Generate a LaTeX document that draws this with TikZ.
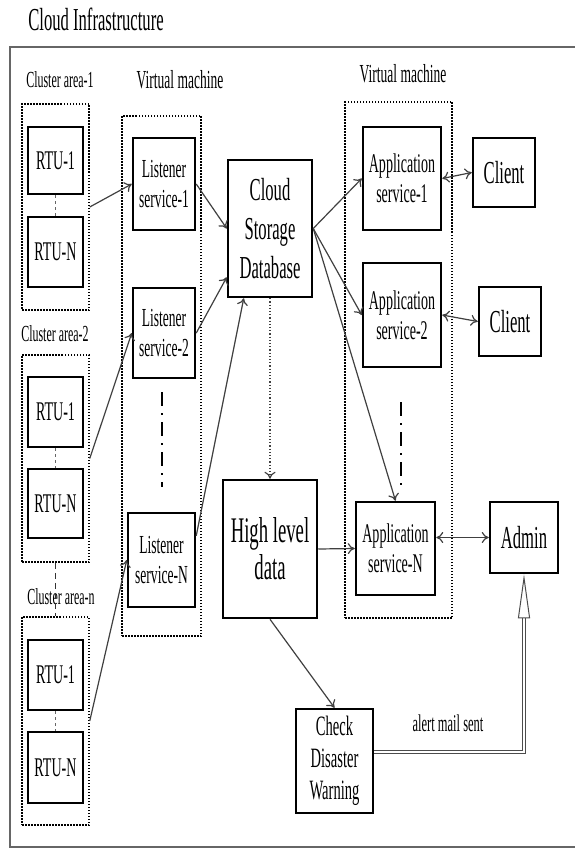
\documentclass[tikz,border=0pt]{standalone}
\usepackage{fontspec}
\setmainfont{Liberation Serif}[FakeStretch=0.52]
\usetikzlibrary{arrows.meta}

\begin{document}
\begin{tikzpicture}[x=1pt,y=-1pt,
    box/.style={draw=black, line width=2.5pt, align=center, inner sep=0pt},
    area/.style={draw=black, line width=1.5pt, dash pattern=on 1.5pt off 1.5pt, inner sep=0pt},
    flow/.style={draw=black!75, line width=1.2pt, -{To[length=7pt,width=11pt]}},
    both/.style={flow, {To[length=7pt,width=11pt]}-{To[length=7pt,width=11pt]}},
    gap/.style={line width=1.5pt, dash pattern=on 14pt off 7pt on 2pt off 7pt},
    rtu/.style={box, minimum width=55, font=\fontsize{27}{30}\selectfont},
    lbl/.style={font=\fontsize{23}{26}\selectfont}]
    \useasboundingbox (0,0) rectangle (575,856);
    % frame and headings
    \draw[black!60, line width=1.5pt] (575,47) -- (10,47) -- (10,847) -- (575,847);
    \node (title) at (96,19) {\fontsize{32}{36}\selectfont Cloud Infrastructure};
    \node[lbl] (lab1) at (60,80) {Cluster area-1};
    \node[lbl] (lab2) at (55,334) {Cluster area-2};
    \node[lbl] (labn) at (61,597) {Cluster area-n};
    \node[font=\fontsize{26}{30}\selectfont] (vmlab1) at (180,80) {Virtual machine};
    \node[font=\fontsize{26}{30}\selectfont] (vmlab2) at (403,74) {Virtual machine};

    % cluster areas
    \node[area, minimum width=67, minimum height=206] (c1) at (55.5,207) {};
    \node[area, minimum width=67, minimum height=207] (c2) at (55.5,458.5) {};
    \node[area, minimum width=67, minimum height=208] (c3) at (55.5,721) {};
    \node[rtu, minimum height=67] (r11) at (55.5,160.5) {RTU-1};
    \node[rtu, minimum height=70] (r1n) at (55.5,252) {RTU-N};
    \node[rtu, minimum height=70] (r21) at (55.5,412) {RTU-1};
    \node[rtu, minimum height=69] (r2n) at (55.5,503.5) {RTU-N};
    \node[rtu, minimum height=70] (r31) at (55.5,675) {RTU-1};
    \node[rtu, minimum height=71] (r3n) at (55.5,767.5) {RTU-N};
    \draw[black!60, line width=1pt, dashed] (r11) -- (r1n);
    \draw[black!60, line width=1pt, dashed] (r21) -- (r2n);
    \draw[black!60, line width=1pt, dashed] (r31) -- (r3n);
    \draw[black!80, line width=1.2pt, dash pattern=on 6pt off 4pt] (c2.south) -- (c3.north);

    % listener services
    \node[area, minimum width=79, minimum height=520] (vm1) at (161.5,376) {};
    \node[box, minimum width=62, minimum height=92, font=\fontsize{26}{30}\selectfont] (ls1) at (164,184) {Listener\\service-1};
    \node[box, minimum width=62, minimum height=90, font=\fontsize{26}{30}\selectfont] (ls2) at (164,333) {Listener\\service-2};
    \node[box, minimum width=67, minimum height=94, font=\fontsize{26}{30}\selectfont] (lsN) at (161.5,560) {Listener\\service-N};
    \coordinate (lsgap1) at (162,392);
    \coordinate (lsgap2) at (162,487);
    \draw[gap] (lsgap1) -- (lsgap2);

    % storage and data
    \node[box, minimum width=84, minimum height=137, font=\fontsize{32}{39}\selectfont] (csd) at (270,228.5) {Cloud\\Storage\\Database};
    \node[box, minimum width=94, minimum height=138, font=\fontsize{36}{37}\selectfont] (hld) at (270,549) {High level\\data};
    \node[box, minimum width=77, minimum height=104, font=\fontsize{28}{32}\selectfont] (cdw) at (334.5,761) {Check\\Disaster\\Warning};

    % application services
    \node[area, minimum width=107, minimum height=516] (vm2) at (398.5,360) {};
    \node[box, minimum width=78, minimum height=103, font=\fontsize{27}{30}\selectfont] (app1) at (402,178.5) {Application\\service-1};
    \node[box, minimum width=78, minimum height=104, font=\fontsize{27}{30}\selectfont] (app2) at (402,315) {Application\\service-2};
    \node[box, minimum width=79, minimum height=93, font=\fontsize{27}{30}\selectfont] (appN) at (395.5,548.5) {Application\\service-N};
    \coordinate (apgap1) at (401,402);
    \coordinate (apgap2) at (401,485);
    \draw[gap] (apgap1) -- (apgap2);

    % users
    \node[box, minimum width=62, minimum height=69, font=\fontsize{32}{36}\selectfont] (cl1) at (504,172.5) {Client};
    \node[box, minimum width=62, minimum height=69, font=\fontsize{32}{36}\selectfont] (cl2) at (510,321.5) {Client};
    \node[box, minimum width=68, minimum height=71, font=\fontsize{32}{36}\selectfont] (adm) at (524,537.5) {Admin};

    % connectors
    \draw[flow] (c1.east) -- (ls1.west);
    \draw[flow] (c2.east) -- (ls2.west);
    \draw[flow] (c3.east) -- (lsN.west);
    \draw[flow] (ls1.east) -- (csd.west);
    \draw[flow] (ls2.east) -- ([yshift=21pt]csd.south west);
    \draw[flow] ([yshift=-24pt]lsN.north east) -- ([xshift=17pt]csd.south west);
    \draw[flow] (csd.east) -- (app1.west);
    \draw[flow] (csd.east) -- (app2.west);
    \draw[flow] (csd.east) -- (appN.north);
    \draw[flow, dotted] (csd.south) -- (hld.north);
    \draw[flow] (hld.east) -- (appN.west);
    \draw[flow] (hld.south) -- (cdw.north);
    \draw[both] (app1.east) -- (cl1.west);
    \draw[both] (app2.east) -- (cl2.west);
    \draw[both] (appN.east |- adm.west) -- (adm.west);
    \draw[black!70, line width=1pt, double, double distance=2.5pt,
        -{Triangle[open,length=44pt,width=12pt]}] ([yshift=9pt]cdw.east) -| (adm.south);
    \node[font=\fontsize{24}{28}\selectfont] (mail) at (448,723) {alert mail sent};
\end{tikzpicture}
\end{document}
